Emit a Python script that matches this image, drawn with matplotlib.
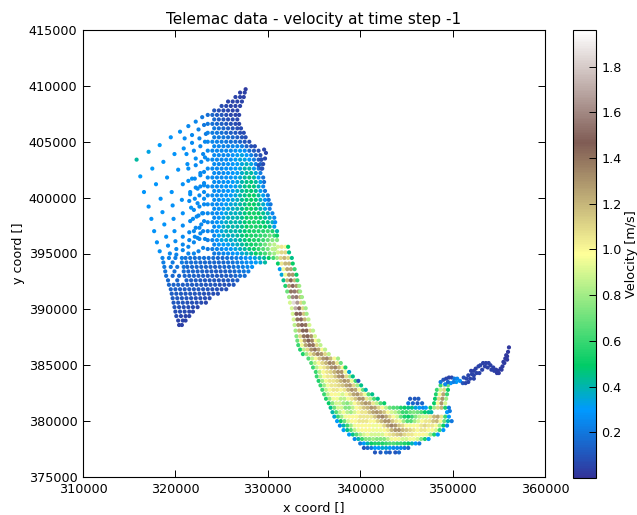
# Telemac data - velocity scatter (coords in km)
import numpy as np
import matplotlib
matplotlib.use("Agg")
import matplotlib.pyplot as plt

plot_title = "Telemac data - velocity at time step -1"
x_ticks = [310000, 320000, 330000, 340000, 350000, 360000]
y_ticks = [375000, 380000, 385000, 390000, 395000, 400000, 405000, 410000, 415000]
cbar_ticks = [0.2, 0.4, 0.6, 0.8, 1.0, 1.2, 1.4, 1.6, 1.8]

# Sparse west part of the sea, sloping rows from the west edge
west_x = [
 [315.8,317.1,318.3,319.5,320.5,321.4,322.2,322.9],
 [316.2,317.5,318.7,319.9,320.9,321.8,322.6,323.3],
 [316.6,317.9,319.1,320.3,321.3,322.2,323.0],
 [317.1,318.4,319.6,320.8,321.8,322.7],
 [317.4,318.6,319.7,320.7,321.6,322.4,323.1],
 [317.7,318.8,319.8,320.8,321.7,322.4,323.1],
 [318.0,319.0,319.9,320.8,321.6,322.3,322.9],
 [318.3,319.2,320.0,320.8,321.5,322.2,322.8],
 [319.4,320.1,320.8,321.5,322.1,322.7],
 [320.1,320.8,321.4,322.0,322.6,323.2],
 [321.4,322.0,322.5,323.0],
 # in between rows, closer to the dense part
 [321.0,321.8,322.5,323.1],
 [321.2,322.0,322.7,323.2],
 [321.4,322.2,322.8,323.2],
 [321.4,322.1,322.7,323.1],
 [321.6,322.2,322.7,323.1],
 [321.5,322.1,322.6,323.1],
 [322.0,322.6,323.1],
 [321.9,322.5,323.0],
 [322.0,322.6,323.1,323.0,322.4],
]
west_y = [
 [403.4,404.1,404.7,405.4,405.9,406.4,406.8,407.2],
 [401.9,402.6,403.2,403.9,404.4,404.9,405.3,405.7],
 [400.5,401.2,401.8,402.5,403.0,403.5,403.9],
 [399.2,399.9,400.5,401.2,401.7,402.2],
 [398.1,398.7,399.3,399.8,400.3,400.8,401.1],
 [397.0,397.6,398.1,398.6,399.1,399.5,399.9],
 [396.0,396.5,397.0,397.5,397.9,398.3,398.6],
 [395.2,395.7,396.1,396.5,396.9,397.3,397.6],
 [395.0,395.4,395.8,396.2,396.5,396.8],
 [394.9,395.3,395.6,396.0,396.3,396.3],
 [395.0,395.0,395.2,395.5],
 [405.3,405.6,406.1,406.5],
 [403.9,404.2,404.6,405.0],
 [402.6,402.9,403.2,403.6],
 [401.5,401.7,402.0,402.3],
 [400.5,400.9,401.0,401.3],
 [399.7,399.9,400.2,400.5],
 [398.9,399.2,399.4],
 [398.1,398.4,398.6],
 [397.0,397.3,397.9,397.0,396.4],
]
west_v = [
 [.42,.33,.3,.28,.27,.25,.24,.2],
 [.3,.3,.29,.28,.27,.26,.24,.21],
 [.29,.29,.28,.28,.27,.27,.25],
 [.28,.28,.28,.27,.27,.26],
 [.28,.28,.27,.27,.27,.26,.26],
 [.28,.28,.27,.27,.27,.26,.26],
 [.27,.27,.27,.26,.26,.26,.26],
 [.27,.26,.26,.26,.25,.25,.25],
 [.25,.25,.25,.25,.25,.25],
 [.24,.24,.24,.24,.24,.24],
 [.24,.24,.23,.23],
 [.26,.25,.23,.2],
 [.27,.26,.25,.25],
 [.27,.26,.26,.26],
 [.27,.26,.26,.26],
 [.27,.26,.26,.26],
 [.26,.26,.26,.26],
 [.26,.26,.25],
 [.26,.25,.25],
 [.25,.25,.25,.24,.24],
]

# Dense part of the sea, level rows of nodes
sea_y = [409.7,409.4,409.0,408.6,408.2,407.8,407.4,407.0,406.6,406.2,405.8,405.4,405.0,404.6,404.2,403.8,403.4,403.0,402.6,402.2,401.8,401.4,401.0,400.6,400.2,399.8,399.4,399.0,398.6,398.2,397.8,397.4,397.0,396.6,396.2,395.8,395.4,395.0,394.6,394.2,393.8,393.4,393.0,392.6,392.2,391.8,391.4,391.0,390.6,390.2,389.8,389.4,389.0,388.6]
sea_x = [
 [327.6],
 [327.0,327.5],
 [326.5,327.0,327.4],
 [325.7,326.2,326.7,327.2],
 [325.0,325.5,326.0,326.5,327.0],
 [324.2,324.7,325.2,325.7,326.2,326.7],
 [323.5,324.0,324.5,325.0,325.5,326.0,326.5,326.9],
 [324.2,324.7,325.2,325.7,326.2,326.7],
 [323.5,324.0,324.5,325.0,325.5,326.0,326.5,326.9],
 [324.2,324.7,325.2,325.7,326.2,326.7,327.1],
 [323.5,324.0,324.5,325.0,325.5,326.0,326.5,327.0,327.4],
 [324.2,324.7,325.2,325.7,326.2,326.7,327.2,327.6],
 [323.5,324.0,324.5,325.0,325.5,326.0,326.5,327.0,327.5,328.0],
 [324.2,324.7,325.2,325.7,326.2,326.7,327.2,327.7,328.2,328.6],
 [323.5,324.0,324.5,325.0,325.5,326.0,326.5,327.0,327.5,328.0,328.5,329.0],
 [324.2,324.7,325.2,325.7,326.2,326.7,327.2,327.7,328.2,328.7,329.2],
 [323.5,324.0,324.5,325.0,325.5,326.0,326.5,327.0,327.5,328.0,328.5,329.0,329.3],
 [324.2,324.7,325.2,325.7,326.2,326.7,327.2,327.7,328.2,328.7,329.2],
 [323.5,324.0,324.5,325.0,325.5,326.0,326.5,327.0,327.5,328.0,328.5,329.0,329.4],
 [324.2,324.7,325.2,325.7,326.2,326.7,327.2,327.7,328.2,328.7,329.2],
 [323.5,324.0,324.5,325.0,325.5,326.0,326.5,327.0,327.5,328.0,328.5,329.0,329.5],
 [324.2,324.7,325.2,325.7,326.2,326.7,327.2,327.7,328.2,328.7,329.2,329.6],
 [323.5,324.0,324.5,325.0,325.5,326.0,326.5,327.0,327.5,328.0,328.5,329.0,329.5],
 [324.2,324.7,325.2,325.7,326.2,326.7,327.2,327.7,328.2,328.7,329.2,329.7],
 [323.5,324.0,324.5,325.0,325.5,326.0,326.5,327.0,327.5,328.0,328.5,329.0,329.5,330.0],
 [324.2,324.7,325.2,325.7,326.2,326.7,327.2,327.7,328.2,328.7,329.2,329.7,330.1],
 [323.5,324.0,324.5,325.0,325.5,326.0,326.5,327.0,327.5,328.0,328.5,329.0,329.5,330.0,330.3],
 [324.2,324.7,325.2,325.7,326.2,326.7,327.2,327.7,328.2,328.7,329.2,329.7,330.2],
 [323.5,324.0,324.5,325.0,325.5,326.0,326.5,327.0,327.5,328.0,328.5,329.0,329.5,330.0,330.5],
 [324.2,324.7,325.2,325.7,326.2,326.7,327.2,327.7,328.2,328.7,329.2,329.7,330.2,330.7],
 [323.5,324.0,324.5,325.0,325.5,326.0,326.5,327.0,327.5,328.0,328.5,329.0,329.5,330.0,330.5,330.8],
 [324.2,324.7,325.2,325.7,326.2,326.7,327.2,327.7,328.2,328.7,329.2,329.7,330.2,330.7],
 [323.5,324.0,324.5,325.0,325.5,326.0,326.5,327.0,327.5,328.0,328.5,329.0,329.5,330.0,330.5,331.0],
 [324.2,324.7,325.2,325.7,326.2,326.7,327.2,327.7,328.2,328.7,329.2,329.7,330.2,330.7,331.0],
 [323.5,324.0,324.5,325.0,325.5,326.0,326.5,327.0,327.5,328.0,328.5,329.0,329.5,330.0,330.5,331.0],
 [324.2,324.7,325.2,325.7,326.2,326.7,327.2,327.7,328.2,328.7,329.2,329.7,330.2,330.7],
 [323.5,324.0,324.5,325.0,325.5,326.0,326.5,327.0,327.5,328.0,328.5,329.0,329.5,330.0,330.5,330.8],
 [324.2,324.7,325.2,325.7,326.2,326.7,327.2,327.7,328.2,328.7,329.2,329.7,330.2,330.7],
 [318.6,319.3,320.0,320.7,321.1,321.6,322.1,322.6,323.1,323.6,324.1,324.6,325.1,325.6,326.1,326.6,327.1,327.6,328.1,328.6,329.1,329.6,330.1,330.6],
 [318.7,319.7,320.7,321.2,321.7,322.2,322.7,323.2,323.7,324.2,324.7,325.2,325.7,326.2,326.7,327.2,327.7,328.2,328.7,329.2,329.7],
 [318.8,319.5,320.2,320.9,321.3,321.8,322.3,322.8,323.3,323.8,324.3,324.8,325.3,325.8,326.3,326.8,327.3,327.8,328.3],
 [318.9,319.9,320.9,321.4,321.9,322.4,322.9,323.4,323.9,324.4,324.9,325.4,325.9,326.4,326.9,327.4,327.9],
 [319.0,319.7,320.4,321.0,321.5,322.0,322.5,323.0,323.5,324.0,324.5,325.0,325.5,326.0,326.5,327.0,327.5],
 [319.2,320.2,321.2,321.7,322.2,322.7,323.2,323.7,324.2,324.7,325.2,325.7,326.2,326.7],
 [319.3,319.8,320.3,320.8,321.3,321.8,322.3,322.8,323.3,323.8,324.3,324.8,325.3,325.8,326.3],
 [319.5,320.0,320.5,321.0,321.5,322.0,322.5,323.0,323.5,324.0,324.5,325.0,325.5],
 [319.6,320.1,320.6,321.1,321.6,322.1,322.6,323.1,323.6,324.1,324.6],
 [319.7,320.2,320.7,321.2,321.7,322.2,322.7,323.2,323.7],
 [319.8,320.3,320.8,321.3,321.8,322.3,322.8,323.3],
 [319.9,320.4,320.9,321.4,321.9,322.4],
 [320.0,320.5,321.0,321.5,321.9],
 [320.1,320.6,321.1,321.5],
 [320.3,320.8,321.1],
 [320.4,320.7],
]
sea_v = [
 [.03],
 [.04,.04],
 [.05,.05,.04],
 [.05,.05,.05,.05],
 [.07,.06,.05,.05,.05],
 [.1,.08,.07,.06,.05,.05],
 [.17,.15,.12,.1,.08,.06,.05,.05],
 [.16,.13,.1,.08,.07,.06],
 [.2,.18,.16,.13,.11,.09,.07,.06],
 [.2,.18,.15,.13,.1,.08,.07],
 [.23,.21,.2,.18,.15,.13,.11,.08,.07],
 [.22,.21,.2,.18,.16,.13,.1,.08],
 [.25,.24,.23,.22,.2,.18,.17,.14,.1,.08],
 [.25,.24,.23,.23,.24,.25,.21,.14,.09,.07],
 [.26,.25,.25,.25,.25,.26,.28,.3,.27,.17,.12,.08],
 [.26,.25,.25,.26,.28,.31,.33,.3,.22,.14,.08],
 [.26,.26,.25,.25,.26,.28,.31,.34,.33,.3,.22,.12,.08],
 [.26,.25,.26,.27,.29,.31,.34,.38,.34,.25,.15],
 [.26,.26,.25,.26,.27,.29,.3,.33,.4,.4,.32,.2,.1],
 [.26,.25,.26,.28,.29,.31,.36,.42,.42,.35,.22],
 [.26,.26,.25,.26,.27,.28,.31,.35,.42,.45,.42,.3,.18],
 [.26,.26,.27,.28,.3,.33,.4,.45,.47,.42,.32,.18],
 [.26,.26,.26,.27,.28,.3,.32,.38,.44,.47,.46,.38,.24],
 [.26,.26,.27,.29,.31,.36,.42,.46,.48,.44,.32,.2],
 [.26,.26,.26,.27,.28,.31,.34,.4,.45,.49,.5,.42,.32,.2],
 [.26,.27,.29,.31,.34,.38,.43,.47,.5,.47,.38,.28,.2],
 [.26,.26,.26,.28,.31,.34,.36,.41,.45,.5,.5,.45,.36,.3,.2],
 [.26,.27,.31,.34,.36,.4,.44,.5,.52,.48,.4,.33,.22],
 [.25,.25,.26,.3,.34,.37,.38,.4,.46,.5,.53,.5,.44,.38,.24],
 [.25,.28,.33,.37,.39,.4,.44,.5,.54,.52,.48,.42,.36,.25],
 [.25,.25,.28,.33,.37,.4,.4,.42,.47,.52,.55,.52,.48,.45,.38,.28],
 [.25,.3,.36,.4,.4,.41,.45,.5,.55,.55,.52,.5,.45,.32],
 [.24,.25,.29,.34,.38,.4,.4,.43,.47,.52,.55,.55,.56,.6,.55,.4],
 [.25,.32,.36,.38,.38,.42,.46,.5,.55,.55,.58,.62,.68,.6,.5],
 [.22,.24,.28,.33,.35,.36,.38,.42,.46,.5,.55,.55,.6,.68,.75,.75],
 [.24,.28,.3,.32,.34,.38,.42,.46,.52,.55,.6,.7,.8,.85],
 [.2,.22,.24,.26,.28,.3,.33,.37,.42,.47,.52,.58,.65,.72,.85,.85],
 [.2,.22,.24,.26,.28,.3,.35,.38,.43,.5,.55,.62,.72,.8],
 [.23,.23,.22,.22,.19,.19,.18,.18,.18,.17,.17,.16,.16,.18,.2,.22,.25,.27,.3,.33,.38,.43,.5,.62],
 [.22,.21,.21,.18,.17,.17,.16,.16,.15,.15,.15,.16,.17,.19,.21,.24,.26,.28,.3,.35,.42],
 [.2,.2,.19,.19,.16,.16,.15,.15,.14,.14,.13,.14,.15,.16,.18,.2,.22,.25,.28],
 [.19,.18,.17,.15,.15,.14,.14,.13,.13,.12,.12,.13,.14,.16,.18,.2,.22],
 [.17,.16,.16,.15,.14,.14,.13,.13,.12,.12,.11,.11,.12,.13,.15,.17,.17],
 [.16,.15,.14,.13,.13,.12,.11,.11,.1,.1,.1,.11,.12,.13],
 [.15,.14,.14,.13,.13,.12,.12,.11,.1,.1,.1,.09,.09,.09,.1],
 [.14,.13,.13,.12,.12,.11,.11,.1,.1,.09,.09,.08,.08],
 [.13,.12,.12,.11,.11,.1,.1,.09,.09,.08,.08],
 [.12,.11,.11,.1,.1,.09,.09,.08,.07],
 [.11,.1,.1,.09,.09,.08,.07,.06],
 [.1,.09,.09,.08,.07,.06],
 [.08,.08,.07,.06,.05],
 [.07,.06,.05,.05],
 [.05,.05,.04],
 [.04,.04],
]

# Hook on the north east shore
hook_x = [329.0,329.3,329.5,329.7,329.8,329.6,329.3]
hook_y = [402.9,402.6,403.0,403.5,404.0,404.3,403.4]
hook_v = [.1,.08,.07,.06,.05,.05,.08]

# River part, level rows of nodes going down the estuary
river_y = [395.6,395.1,394.6,394.1,393.6,393.1,392.6,392.1,391.6,391.1,390.6,390.1,389.6,389.1,388.6,388.1,387.6,387.2,386.8,386.4,386.0,385.6,385.2,384.8,384.4,384.0,383.6,383.2,382.8,382.4,382.0,381.6,381.2,380.8,380.4,380.0,379.6,379.2,378.8,378.4,378.0,377.6,377.2]
river_x = [
 [331.1,331.5,331.9,332.2],
 [331.1,331.5,331.9,332.3],
 [331.0,331.4,331.8,332.2,332.6],
 [331.1,331.5,331.9,332.3,332.7],
 [331.3,331.7,332.1,332.5,332.9],
 [331.5,331.9,332.3,332.7,333.1],
 [331.7,332.1,332.5,332.9,333.2],
 [331.9,332.3,332.7,333.1,333.4],
 [332.1,332.5,332.9,333.3,333.5],
 [332.3,332.7,333.1,333.5,333.7],
 [332.4,332.8,333.2,333.6,333.9],
 [332.6,333.0,333.4,333.8,334.1],
 [332.7,333.1,333.5,333.9,334.2],
 [332.8,333.2,333.6,334.0,334.4],
 [332.9,333.3,333.7,334.1,334.5],
 [333.0,333.4,333.8,334.2,334.6,334.9],
 [333.1,333.5,333.9,334.3,334.7,335.1],
 [333.2,333.6,334.0,334.4,334.8,335.2,335.5],
 [333.3,333.7,334.1,334.5,334.9,335.3,335.7],
 [333.5,333.9,334.3,334.7,335.1,335.5,335.9,336.2],
 [333.8,334.2,334.6,335.0,335.4,335.8,336.2,336.6],
 [334.4,334.8,335.2,335.6,336.0,336.4,336.8,337.2,337.6],
 [334.7,335.1,335.5,335.9,336.3,336.7,337.1,337.5,337.9],
 [334.9,335.3,335.7,336.1,336.5,336.9,337.3,337.7,338.1,338.4],
 [335.2,335.6,336.0,336.4,336.8,337.2,337.6,338.0,338.4,338.8],
 [335.3,335.7,336.1,336.5,336.9,337.3,337.7,338.1,338.5,338.9,339.2],
 [335.5,335.9,336.3,336.7,337.1,337.5,337.9,338.3,338.7,339.1,339.5,339.8],
 [335.7,336.1,336.5,336.9,337.3,337.7,338.1,338.5,338.9,339.3,339.7,340.1],
 [335.9,336.3,336.7,337.1,337.5,337.9,338.3,338.7,339.1,339.5,339.9,340.3,340.6],
 [336.1,336.5,336.9,337.3,337.7,338.1,338.5,338.9,339.3,339.7,340.1,340.5,340.9,341.3],
 [336.3,336.7,337.1,337.5,337.9,338.3,338.7,339.1,339.5,339.9,340.3,340.7,341.1,341.5,341.9,345.4,345.9,346.3],
 [336.6,337.0,337.4,337.8,338.2,338.6,339.0,339.4,339.8,340.2,340.6,341.0,341.4,341.8,342.2,342.6,345.2,345.7,346.2,346.7],
 [336.8,337.2,337.6,338.0,338.4,338.8,339.2,339.6,340.0,340.4,340.8,341.2,341.6,342.0,342.4,342.8,343.2,343.6,344.0,344.4,344.8,345.2,345.6,346.0,346.4,346.8,347.1],
 [337.0,337.4,337.8,338.2,338.6,339.0,339.4,339.8,340.2,340.6,341.0,341.4,341.8,342.2,342.6,343.0,343.4,343.8,344.2,344.6,345.0,345.4,345.8,346.2,346.6,347.0,347.4,347.7,349.4],
 [337.2,337.6,338.0,338.4,338.8,339.2,339.6,340.0,340.4,340.8,341.2,341.6,342.0,342.4,342.8,343.2,343.6,344.0,344.4,344.8,345.2,345.6,346.0,346.4,346.8,347.2,347.6,348.0,348.4,348.8,349.2,349.6],
 [337.5,337.9,338.3,338.7,339.1,339.5,339.9,340.3,340.7,341.1,341.5,341.9,342.3,342.7,343.1,343.5,343.9,344.3,344.7,345.1,345.5,345.9,346.3,346.7,347.1,347.5,347.9,348.3,348.7,349.1,349.5,349.9],
 [337.8,338.2,338.6,339.0,339.4,339.8,340.2,340.6,341.0,341.4,341.8,342.2,342.6,343.0,343.4,343.8,344.2,344.6,345.0,345.4,345.8,346.2,346.6,347.0,347.4,347.8,348.2,348.6,349.0,349.4],
 [338.2,338.6,339.0,339.4,339.8,340.2,340.6,341.0,341.4,341.8,342.2,342.6,343.0,343.4,343.8,344.2,344.6,345.0,345.4,345.8,346.2,346.6,347.0,347.4,347.8,348.2,348.6,349.0],
 [338.8,339.2,339.6,340.0,340.4,340.8,341.2,341.6,342.0,342.4,342.8,343.2,343.6,344.0,344.4,344.8,345.2,345.6,346.0,346.4,346.8,347.2,347.6,348.0,348.4],
 [339.4,339.8,340.2,340.6,341.0,341.4,341.8,342.2,342.6,343.0,343.4,343.8,344.2,344.6,345.0,345.4,345.8,346.2,346.6,347.0,347.4],
 [340.0,340.4,340.8,341.2,341.6,342.0,342.4,342.8,343.2,343.6,344.0,344.4,344.8,345.2,345.6,346.0,346.4],
 [340.4,340.8,341.2,341.6,342.0,342.4,342.8,343.2,343.6,344.0,344.4,344.8,345.2],
 [341.6,342.2,342.8,343.2,343.8,344.2],
]
river_v = [
 [.9,1.05,1.0,.5],
 [.9,1.1,1.1,.45],
 [.8,1.1,1.2,1.1,.45],
 [.5,1.05,1.2,1.2,.5],
 [.3,.95,1.25,1.25,.6],
 [.35,.95,1.3,1.3,.5],
 [.45,1.2,1.45,1.2,.6],
 [.55,1.25,1.5,1.3,.8],
 [.7,1.4,1.55,1.3,.8],
 [.8,1.6,1.55,1.2,.8],
 [.9,1.85,1.65,1.1,.8],
 [.9,1.7,1.5,1.1,.8],
 [.9,1.45,1.5,1.15,.8],
 [.9,1.4,1.5,1.2,.85],
 [.85,1.3,1.5,1.4,.9],
 [.8,1.2,1.45,1.45,1.1,.85],
 [.75,1.1,1.4,1.45,1.3,.9],
 [.7,1.0,1.3,1.45,1.35,1.0,.85],
 [.6,.95,1.25,1.4,1.4,1.1,.85],
 [.55,.85,1.1,1.3,1.4,1.25,1.0,.85],
 [.55,.8,1.05,1.2,1.35,1.3,1.1,.85],
 [.65,.85,1.0,1.15,1.3,1.35,1.2,1.0,.8],
 [.65,.85,1.0,1.1,1.2,1.35,1.3,1.05,.7],
 [.6,.85,1.0,1.05,1.15,1.3,1.35,1.2,1.0,.55],
 [.6,.85,1.0,1.05,1.1,1.2,1.3,1.3,.95,.35],
 [.6,.85,1.0,1.05,1.05,1.15,1.3,1.35,1.1,.8,.45],
 [.55,.8,.95,1.05,1.05,1.1,1.2,1.3,1.25,.95,.6,.1],
 [.6,.8,.95,1.05,1.05,1.1,1.15,1.25,1.3,1.1,.8,.45],
 [.6,.85,1.0,1.05,1.05,1.0,1.05,1.2,1.3,1.25,1.0,.7,.4],
 [.6,.85,1.0,1.0,.95,.9,1.0,1.1,1.25,1.3,1.15,.95,.65,.45],
 [.55,.8,.95,.95,.85,.85,.95,1.05,1.15,1.3,1.3,1.05,.85,.65,.45,.12,.1,.12],
 [.5,.75,.9,.9,.8,.75,.85,1.0,1.1,1.2,1.3,1.25,1.05,.85,.65,.5,.2,.15,.12,.15],
 [.45,.7,.9,.9,.75,.75,.85,1.0,1.05,1.15,1.2,1.3,1.25,1.1,1.0,.85,.7,.65,.65,.55,.5,.45,.45,.35,.3,.25,.3],
 [.4,.65,.85,.95,.85,.8,.9,1.0,1.05,1.05,1.15,1.25,1.3,1.25,1.15,1.0,.9,.85,.75,.6,.6,.7,.75,.7,.65,.5,.45,.4,.3],
 [.35,.6,.8,.95,1.0,1.0,1.0,1.05,1.05,1.05,1.05,1.15,1.3,1.35,1.25,1.1,1.0,.9,.7,.55,.5,.6,.75,.85,.9,.9,1.05,1.2,1.25,1.05,.6,.3],
 [.3,.5,.7,.9,1.0,1.0,1.05,1.05,1.05,1.0,1.0,1.1,1.2,1.3,1.3,1.15,1.05,.95,.8,.65,.65,.8,.9,1.0,1.05,1.05,1.15,1.2,1.0,.7,.4,.2],
 [.25,.4,.6,.8,.95,1.0,1.0,1.0,1.0,.95,.95,1.0,1.1,1.25,1.35,1.3,1.15,1.1,1.0,.95,1.0,1.0,1.05,1.1,1.05,1.05,1.0,.8,.5,.25],
 [.3,.45,.65,.85,.95,1.0,1.0,1.0,.95,.95,.95,1.0,1.05,1.2,1.3,1.3,1.2,1.15,1.1,1.05,1.0,1.05,1.05,1.0,1.0,.9,.6,.3],
 [.3,.45,.65,.8,.9,.95,.9,.9,.9,.9,1.0,1.05,1.1,1.15,1.2,1.1,1.05,1.05,1.0,1.0,1.0,.95,.8,.55,.3],
 [.25,.4,.6,.75,.75,.8,.75,.75,.75,.85,.95,1.0,.95,.9,.9,.95,.95,.9,.75,.55,.3],
 [.2,.3,.4,.5,.55,.55,.55,.6,.65,.65,.6,.6,.55,.5,.4,.3,.2],
 [.1,.15,.2,.3,.3,.35,.35,.3,.25,.25,.25,.2,.15],
 [.1,.12,.15,.12,.1,.15],
]

# Neck between the bay and the narrow river
neck_x = [347.6,348.0,348.4,348.8,349.2,349.6,349.7,348.0,348.4,348.8,349.2,348.1,348.5,348.9,349.3,348.2,348.6,349.0,349.4,348.3,348.7,349.1,349.5,348.7,349.1,349.5]
neck_y = [381.2,381.2,381.2,381.2,381.2,381.2,380.9,381.6,381.6,381.6,381.6,382.0,382.0,382.0,382.0,382.4,382.4,382.4,382.4,382.8,382.8,382.8,382.8,383.2,383.2,383.2]
neck_v = [.5,.8,1.1,1.2,.55,.2,.22,.5,1.0,1.3,.9,.5,1.1,1.3,.8,.55,.95,1.25,.6,.6,.9,1.1,.5,.6,.85,.7]

# Narrow dark river tail, upstream of the estuary
tail_x = [348.7,349.0,349.3,349.6,349.9,350.2,350.5,350.8,351.1,351.4,351.7,351.9,352.1,352.0,352.3,352.5,352.8,353.0,353.3,353.6,353.9,354.1,354.4,354.7,354.9,355.2,355.4,355.5,355.7,355.8,356.0,356.1,349.2,349.8,350.4,351.2,351.7,352.3,352.6,353.2,353.8,354.5,355.0,355.6,355.9,349.5,350.1,351.5,352.3,352.9,353.5,354.2,354.8,355.3,355.9]
tail_y = [383.5,383.7,383.8,383.9,383.9,383.8,383.8,383.6,383.4,383.4,383.5,383.8,384.2,384.5,384.5,384.7,384.9,385.0,385.2,385.2,385.2,385.0,384.8,384.6,384.5,384.7,384.9,385.3,385.6,385.9,386.2,386.6,383.3,383.4,383.5,383.9,384.1,384.1,384.3,384.6,384.8,384.5,384.3,385.2,385.8,383.5,383.5,383.8,383.8,384.3,384.9,384.6,384.3,384.6,385.5]
tail_v = [.2,.1,.06,.05,.06,.2,.25,.28,.1,.06,.05,.05,.05,.04,.04,.04,.05,.05,.04,.04,.04,.04,.04,.03,.03,.03,.03,.03,.02,.02,.02,.02,.25,.28,.3,.08,.06,.05,.05,.05,.04,.04,.03,.03,.02,.15,.22,.06,.05,.05,.04,.04,.03,.03,.02]

xs, ys, vs = [], [], []
for a, b, c in zip(west_x, west_y, west_v):
    n = min(len(a), len(b), len(c))
    xs += a[:n]; ys += b[:n]; vs += c[:n]
for level_y, a, c in list(zip(sea_y, sea_x, sea_v)) + list(zip(river_y, river_x, river_v)):
    n = min(len(a), len(c))
    xs += a[:n]; ys += [level_y] * n; vs += c[:n]
xs += hook_x + neck_x + tail_x
ys += hook_y + neck_y + tail_y
vs += hook_v + neck_v + tail_v

x = np.array(xs) * 1000
y = np.array(ys) * 1000
v = np.array(vs)

fig = plt.figure(figsize=(6.37, 5.15), dpi=100)
ax = fig.add_axes([83 / 637, 1 - 477 / 515, 462 / 637, 447 / 515])
sc = ax.scatter(x, y, c=v, cmap="terrain", vmin=0.0, vmax=1.96, s=9, linewidths=0)

ax.set_xlim(310000, 360000)
ax.set_ylim(375000, 415000)
ax.set_xticks(x_ticks)
ax.set_yticks(y_ticks)
ax.ticklabel_format(style="plain", useOffset=False)
ax.tick_params(direction="in", top=True, right=True, length=5, width=0.7, labelsize=9.2, pad=4)
ax.set_title(plot_title, fontsize=11, pad=4)
ax.set_xlabel("x coord []", fontsize=9.2, labelpad=4)
ax.set_ylabel("y coord []", fontsize=9.2, labelpad=3)
for sp in ax.spines.values():
    sp.set_linewidth(0.8)

cax = fig.add_axes([573 / 637, 1 - 478 / 515, 23 / 637, 448 / 515])
cb = fig.colorbar(sc, cax=cax, ticks=cbar_ticks)
cb.ax.tick_params(direction="in", length=5, width=0.7, labelsize=9.2, pad=4)
cb.set_label("Velocity [m/s]", fontsize=9.2, labelpad=2)
cb.outline.set_linewidth(0.8)

fig.savefig("out.png", dpi=100)
